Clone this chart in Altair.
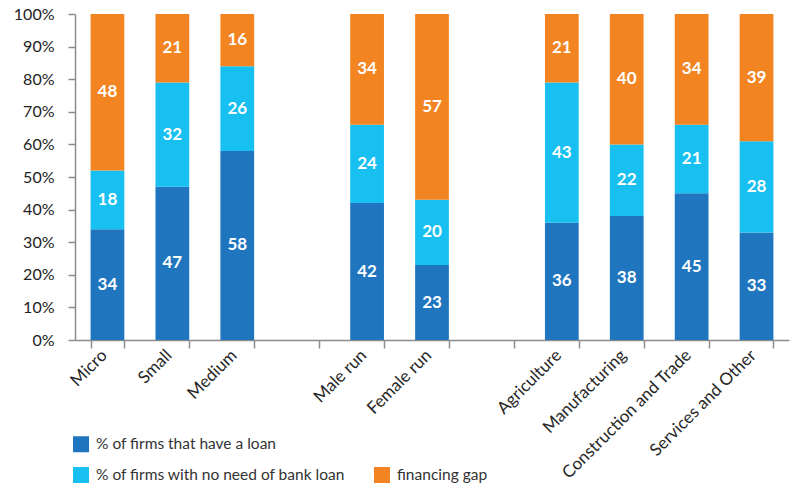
import altair as alt
import pandas as pd

categories = ["Micro", "Small", "Medium", "Male run", "Female run",
              "Agriculture", "Manufacturing", "Construction and Trade", "Services and Other"]
x_domain = ["Micro", "Small", "Medium", " ", "Male run", "Female run", "  ",
            "Agriculture", "Manufacturing", "Construction and Trade", "Services and Other"]
loan = [34, 47, 58, 42, 23, 36, 38, 45, 33]
no_need = [18, 32, 26, 24, 20, 43, 22, 21, 28]
gap = [48, 21, 16, 34, 57, 21, 40, 34, 39]
y_ticks = [0, 10, 20, 30, 40, 50, 60, 70, 80, 90, 100]

S_LOAN = "% of firms that have a loan"
S_NONEED = "% of firms with no need of bank loan"
S_GAP = "financing gap"
S_BLANK = " "
series_names = [S_LOAN, S_NONEED, S_GAP]
series_values = [loan, no_need, gap]
legend_domain = [S_LOAN, S_BLANK, S_NONEED, S_GAP]
legend_colors = ["#1f76bf", "#ffffff", "#17c0f0", "#f28522"]

rows = []
for si, (name, vals) in enumerate(zip(series_names, series_values)):
    for c, v in zip(categories, vals):
        rows.append({"cat": c, "series": name, "value": v, "ord": si})
df = pd.DataFrame(rows)

FONT = "Lato"
W, H = 714, 326

x = alt.X("cat:N", scale=alt.Scale(domain=x_domain, paddingInner=0.48, paddingOuter=0.24),
          axis=alt.Axis(title=None, labelAngle=-45, labelAlign="right", labelBaseline="alphabetic",
                        labelFontSize=17, labelColor="#262626", labelFont=FONT,
                        tickBand="extent", tickSize=8, tickColor="#8c8c8c", tickWidth=1.5,
                        domainColor="#8c8c8c", domainWidth=1.5, labelPadding=8))

y_axis = alt.Axis(title=None, values=y_ticks, labelExpr="datum.value + '%'",
                  labelOverlap=False, labelFontSize=16, labelColor="#222222", labelFont=FONT,
                  tickSize=7, tickColor="#8c8c8c", tickWidth=1.5, labelPadding=14,
                  domainColor="#8c8c8c", domainWidth=1.5, grid=False)
y_scale = alt.Scale(domain=[0, 100])

base = alt.Chart(df).transform_stack(
    stack="value", groupby=["cat"], as_=["y0", "y1"], sort=[alt.SortField("ord")]
).transform_calculate(mid="(datum.y0 + datum.y1) / 2")

bars = base.mark_bar().encode(
    x=x,
    y=alt.Y("y0:Q", scale=y_scale, axis=y_axis),
    y2="y1:Q",
    color=alt.Color("series:N", scale=alt.Scale(domain=legend_domain, range=legend_colors),
                    legend=alt.Legend(title=None, orient="none", legendX=-2, legendY=422,
                                      columns=2, direction="horizontal", symbolType="square",
                                      symbolSize=256, symbolStrokeWidth=0, labelFontSize=15.5,
                                      labelFont=FONT, labelColor="#333333", rowPadding=14,
                                      columnPadding=28, labelOffset=7, padding=0, labelLimit=0)),
)

labels = base.mark_text(color="white", fontWeight="bold", fontSize=17, font=FONT).encode(
    x=x,
    y=alt.Y("mid:Q", scale=y_scale, axis=y_axis),
    text="value:Q",
)

chart = alt.layer(bars, labels).properties(
    width=W, height=H,
    autosize=alt.AutoSizeParams(type="none"),
    padding={"left": 75, "top": 14, "right": 2, "bottom": 145},
    background="white",
).configure_view(stroke=None)

chart.save("out.html", embed_options={"renderer": "svg", "actions": False})
